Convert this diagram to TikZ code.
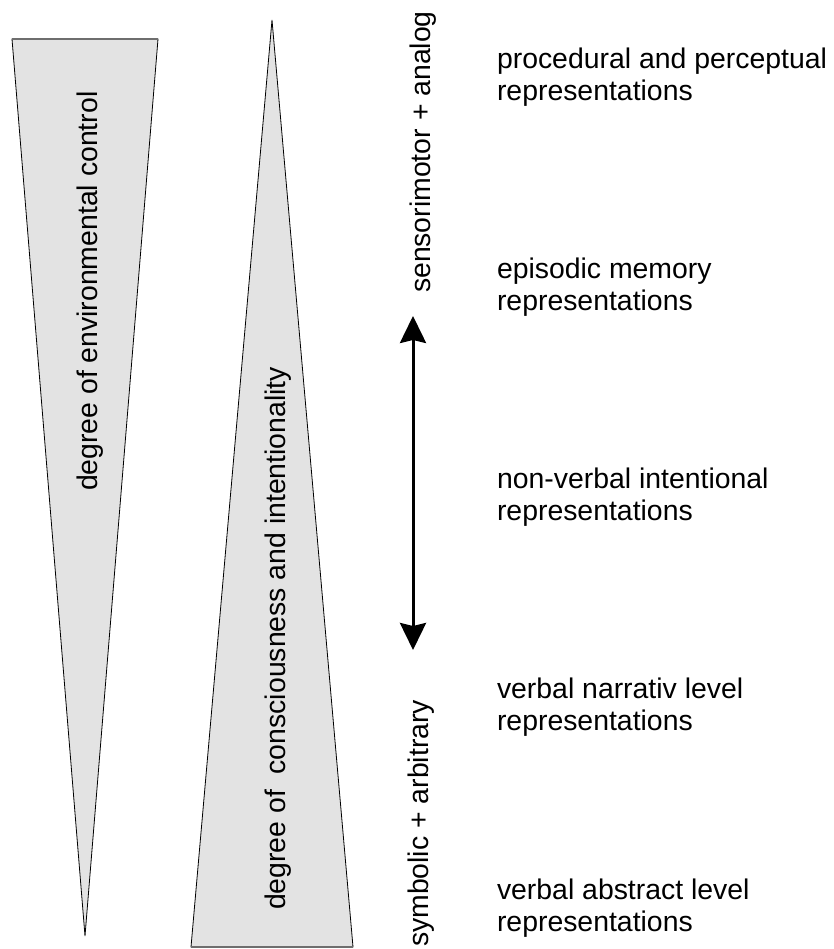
\documentclass[tikz,border=0pt]{standalone}
\usepackage{fontspec}
\setmainfont{Liberation Sans}
\usetikzlibrary{arrows.meta}
\definecolor{wedgefill}{RGB}{227,227,227}
\definecolor{edgegray}{RGB}{110,110,110}
\begin{document}
\begin{tikzpicture}[x=1pt,y=1pt,
  every node/.style={inner sep=0pt, outer sep=0pt, font=\fontsize{28.4}{32.5}\selectfont},
  wedge/.style={fill=wedgefill, draw=black, line width=0.8pt, line join=miter},
  flatedge/.style={draw=edgegray, line width=2.2pt},
  vlabel/.style={rotate=90, anchor=base west},
  level/.style={anchor=base west, align=left},
  dblarrow/.style={line width=3pt, {Stealth[length=27pt,width=26pt,inset=3pt]}-{Stealth[length=27pt,width=26pt,inset=3pt]}}]
\useasboundingbox (0,0) rectangle (834,949);
% wedge 1 (environmental control)
\coordinate (w1a) at (12,910);
\coordinate (w1b) at (158,910);
\coordinate (w1c) at (85,13);
\path[wedge] (w1a) -- (w1b) -- (w1c) -- cycle;
\draw[flatedge] (w1a) -- (w1b);
% wedge 2 (consciousness)
\coordinate (w2a) at (191,2);
\coordinate (w2b) at (353,2);
\coordinate (w2c) at (272,929);
\path[wedge] (w2a) -- (w2b) -- (w2c) -- cycle;
\draw[flatedge] (w2a) -- (w2b);
% rotated labels
\node[vlabel] (envctl) at (97,458) {degree of environmental control};
\node[vlabel] (consc) at (285,39) {degree of\ \ consciousness and intentionality};
\node[vlabel] (analog) at (430,656) {sensorimotor + analog};
\node[vlabel] (symb) at (428,2) {symbolic + arbitrary};
% arrow
\coordinate (arrtop) at (413,633);
\coordinate (arrbot) at (413,299);
\draw[dblarrow] (arrbot) -- (arrtop);
% level texts
\node[level] (l1) at (497,848) {procedural and perceptual\\representations};
\node[level] (l2) at (497,638) {episodic memory\\representations};
\node[level] (l3) at (497,428) {non-verbal intentional\\representations};
\node[level] (l4) at (497,218) {verbal narrativ level\\representations};
\node[level] (l5) at (497,17) {verbal abstract level\\representations};
\end{tikzpicture}
\end{document}
